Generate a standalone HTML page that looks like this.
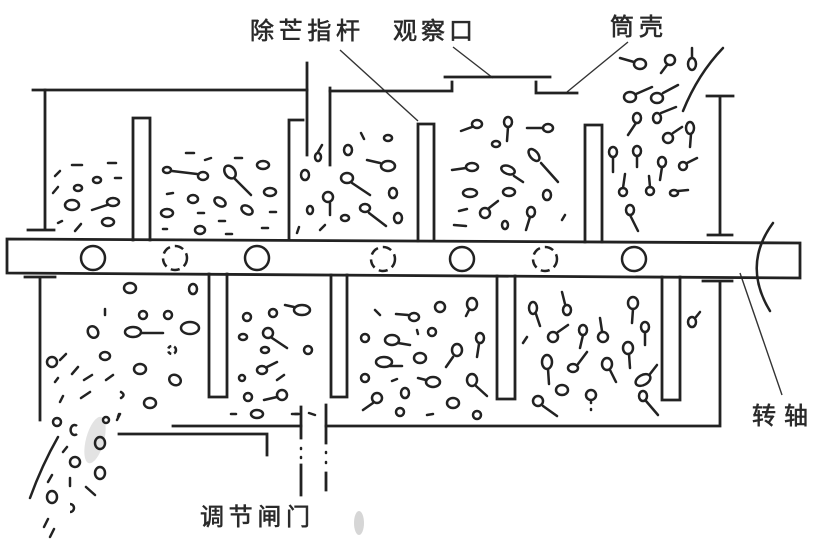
<!DOCTYPE html>
<html>
<head>
<meta charset="utf-8">
<style>
html,body{margin:0;padding:0;background:#fff;}
svg{display:block;}
.l{fill:none;stroke:#222;stroke-width:2.8;stroke-linecap:square;}
.t{fill:none;stroke:#333;stroke-width:1.4;}
.e{fill:none;stroke:#222;stroke-width:2.5;}
.d{fill:none;stroke:#222;stroke-width:2.5;stroke-linecap:round;}
text{font-family:"Liberation Sans","Noto Sans CJK SC",sans-serif;font-size:24px;fill:#2a2a2a;stroke:#2a2a2a;stroke-width:0.6;}
</style>
</head>
<body>
<svg width="819" height="553" viewBox="0 0 819 553" xmlns="http://www.w3.org/2000/svg">
<rect width="819" height="553" fill="#fff"/>

<!-- labels -->
<text x="250" y="39" textLength="110" lengthAdjust="spacing">除芒指杆</text>
<text x="393" y="39" textLength="80" lengthAdjust="spacing">观察口</text>
<text x="610" y="35" textLength="53" lengthAdjust="spacing">筒壳</text>
<text x="752" y="424" textLength="56" lengthAdjust="spacing">转轴</text>
<text x="200" y="525" textLength="110" lengthAdjust="spacing">调节闸门</text>

<!-- leaders -->
<line class="t" x1="340" y1="50" x2="418" y2="121"/>
<line class="t" x1="453" y1="47" x2="493" y2="78"/>
<line class="t" x1="628" y1="42" x2="567" y2="92"/>
<line class="t" x1="740" y1="273" x2="782" y2="395"/>

<!-- shaft -->
<polygon class="l" points="7,239 800,243 800,278 7,273"/>
<circle class="e" cx="93" cy="258" r="12" stroke-width="3.2"/>
<circle class="e" cx="175" cy="258" r="12" stroke-dasharray="9 5"/>
<circle class="e" cx="257" cy="258" r="12" stroke-width="2.8"/>
<circle class="e" cx="383" cy="259" r="12" stroke-dasharray="9 5"/>
<circle class="e" cx="462" cy="259" r="12" stroke-width="2.8"/>
<circle class="e" cx="545" cy="259" r="12" stroke-dasharray="9 5"/>
<circle class="e" cx="634" cy="259" r="12" stroke-width="2.8"/>

<!-- upper housing -->
<path class="l" d="M33,90 H307"/>
<path class="l" d="M330,91 H452 V82"/>
<path class="l" d="M536,82 V93 H577"/>
<path class="l" d="M445,77 H550"/>
<path class="l" d="M45,90 V230 M28,230 H54"/>
<path class="l" d="M720,96 V235 M707,96 H733 M708,235 H732"/>
<!-- inlet pipe -->
<path class="l" d="M307,63 V155 M330,88 V165"/>

<!-- upper fingers -->
<path class="l" d="M133,240 V118 H150 V240"/>
<path class="l" d="M289,240 V120 H303"/>
<path class="l" d="M418,241 V124 H434 V241"/>
<path class="l" d="M585,242 V125 H602 V242"/>

<!-- lower fingers -->
<path class="l" d="M209,274 V397 H227 V274"/>
<path class="l" d="M331,275 V397 H347 V275"/>
<path class="l" d="M497,276 V399 H515 V276"/>
<path class="l" d="M662,277 V400 H680 V277"/>

<!-- lower housing -->
<path class="l" d="M25,277 H55 M40,277 V420"/>
<path class="l" d="M703,281 H732 M720,281 V426 H326"/>
<path class="l" d="M301,426 H173"/>
<path class="l" d="M119,434 H267 V455"/>
<!-- gate -->
<path class="l" d="M301,407 V438 M301,465 V495" stroke-width="2"/>
<path class="d" d="M301,448 v1 M301,457 v1" stroke-width="2"/>
<path class="l" d="M326,405 V443 M326,473 V490" stroke-width="2"/>
<path class="d" d="M326,452 v1 M326,462 v1" stroke-width="2"/>
<path class="d" d="M292,414 H298 M309,413 L315,415" stroke-width="1.6"/>

<!-- flow curves -->
<path class="d" d="M723,48 Q698,74 683,111" stroke-width="2"/>
<path class="d" d="M773,223 Q742,265 770,311" stroke-width="2"/>
<path class="d" d="M58,437 Q42,465 30,498" stroke-width="2.6"/>

<!-- smudges -->
<ellipse cx="95" cy="440" rx="9" ry="24" fill="#d0d0d0" opacity="0.6" transform="rotate(15 95 440)"/>
<ellipse cx="359" cy="523" rx="5" ry="12" fill="#c4c4c4" opacity="0.7"/>

<!-- upper chamber 1 -->
<g>
<path class="d" d="M72,165 H82 M108,163 H116 M55,176 L60,171 M115,178 H121 M53,193 L58,187 M58,223 L62,221 M75,231 L81,224"/>
<ellipse class="e" cx="97" cy="180" rx="4" ry="3"/>
<ellipse class="e" cx="78" cy="188" rx="4" ry="3"/>
<ellipse class="e" cx="72" cy="205" rx="7" ry="5"/>
<ellipse class="e" cx="113" cy="202" rx="6" ry="4"/><path class="d" d="M107,205 L92,210"/>
<ellipse class="e" cx="108" cy="222" rx="6" ry="4"/>
</g>

<!-- upper chamber 2 -->
<g>
<path class="d" d="M186,153 H194 M205,160 L211,158 M235,158 H242 M167,194 L173,193 M198,213 H204 M270,212 H276 M219,221 H225 M163,229 H167 M226,234 H232 M262,228 H268"/>
<ellipse class="e" cx="167" cy="170" rx="4" ry="3"/>
<ellipse class="e" cx="203" cy="176" rx="5" ry="4"/><path class="d" d="M197,174 L172,171"/>
<ellipse class="e" cx="230" cy="172" rx="5" ry="7" transform="rotate(-35 230 172)"/><path class="d" d="M235,179 L251,195"/>
<ellipse class="e" cx="263" cy="165" rx="6" ry="4"/>
<ellipse class="e" cx="193" cy="199" rx="5" ry="4"/>
<ellipse class="e" cx="220" cy="202" rx="6" ry="4" transform="rotate(30 220 202)"/>
<ellipse class="e" cx="270" cy="192" rx="6" ry="4"/>
<ellipse class="e" cx="167" cy="213" rx="6" ry="4"/>
<ellipse class="e" cx="247" cy="210" rx="6" ry="4" transform="rotate(30 247 210)"/>
<ellipse class="e" cx="200" cy="230" rx="5" ry="4"/>
</g>

<!-- upper chamber 3 -->
<g>
<ellipse class="e" cx="318" cy="157" rx="3" ry="4"/><path class="d" d="M318,152 L322,145"/>
<ellipse class="e" cx="348" cy="150" rx="4" ry="5"/>
<path class="d" d="M361,133 L364,139 M297,233 L299,227 M320,230 L325,225"/>
<ellipse class="e" cx="388" cy="138" rx="4" ry="3"/>
<ellipse class="e" cx="388" cy="166" rx="7" ry="5"/><path class="d" d="M380,163 L367,160"/>
<ellipse class="e" cx="305" cy="175" rx="4" ry="5"/>
<ellipse class="e" cx="347" cy="178" rx="6" ry="5"/><path class="d" d="M352,183 L370,195"/>
<ellipse class="e" cx="393" cy="193" rx="4" ry="5"/>
<ellipse class="e" cx="328" cy="197" rx="5" ry="5"/><path class="d" d="M330,203 L330,215"/>
<ellipse class="e" cx="310" cy="210" rx="3" ry="4"/>
<ellipse class="e" cx="345" cy="218" rx="4" ry="3"/>
<ellipse class="e" cx="365" cy="208" rx="5" ry="4"/><path class="d" d="M369,213 L386,226"/>
<ellipse class="e" cx="398" cy="218" rx="4" ry="5"/>
</g>

<!-- upper chamber 4 -->
<g>
<ellipse class="e" cx="477" cy="124" rx="5" ry="4"/><path class="d" d="M472,127 L461,131"/>
<ellipse class="e" cx="508" cy="122" rx="4" ry="5"/><path class="d" d="M508,127 L507,141"/>
<ellipse class="e" cx="548" cy="128" rx="5" ry="4"/><path class="d" d="M543,128 L527,128"/>
<ellipse class="e" cx="496" cy="144" rx="4" ry="3"/>
<ellipse class="e" cx="472" cy="167" rx="6" ry="4"/><path class="d" d="M466,168 L452,170"/>
<ellipse class="e" cx="508" cy="170" rx="7" ry="4" transform="rotate(20 508 170)"/><path class="d" d="M514,176 L523,182"/>
<ellipse class="e" cx="534" cy="155" rx="4" ry="7" transform="rotate(-40 534 155)"/><path class="d" d="M541,163 L558,182"/>
<ellipse class="e" cx="470" cy="193" rx="7" ry="4"/>
<ellipse class="e" cx="509" cy="192" rx="6" ry="4"/>
<ellipse class="e" cx="547" cy="195" rx="4" ry="5"/>
<ellipse class="e" cx="485" cy="213" rx="5" ry="5"/><path class="d" d="M489,208 L498,201"/>
<path class="d" d="M459,211 L467,209 M454,225 L466,226 M562,220 L565,215"/>
<ellipse class="e" cx="505" cy="225" rx="3" ry="4"/>
<ellipse class="e" cx="531" cy="212" rx="4" ry="5"/><path class="d" d="M530,217 L526,230"/>
</g>

<!-- upper chamber 5 / outflow -->
<g>
<ellipse class="e" cx="640" cy="64" rx="6" ry="5"/><path class="d" d="M634,62 L620,58"/>
<ellipse class="e" cx="670" cy="60" rx="5" ry="5"/><path class="d" d="M667,65 L661,73"/>
<ellipse class="e" cx="692" cy="64" rx="4" ry="6"/><path class="d" d="M692,58 L692,48"/>
<ellipse class="e" cx="630" cy="97" rx="6" ry="5"/><path class="d" d="M636,94 L652,87"/>
<ellipse class="e" cx="657" cy="98" rx="6" ry="5"/><path class="d" d="M663,93 L678,85"/>
<ellipse class="e" cx="637" cy="118" rx="4" ry="5"/><path class="d" d="M636,123 L628,135"/>
<ellipse class="e" cx="657" cy="118" rx="4" ry="5"/><path class="d" d="M661,113 L676,107"/>
<ellipse class="e" cx="668" cy="138" rx="5" ry="5"/><path class="d" d="M673,133 L682,127"/>
<ellipse class="e" cx="690" cy="128" rx="4" ry="6"/><path class="d" d="M691,134 L690,147"/>
<ellipse class="e" cx="613" cy="152" rx="4" ry="5"/><path class="d" d="M613,157 L613,172"/>
<ellipse class="e" cx="637" cy="151" rx="4" ry="5"/><path class="d" d="M637,156 L637,167"/>
<ellipse class="e" cx="662" cy="162" rx="4" ry="5"/><path class="d" d="M662,167 L660,180"/>
<ellipse class="e" cx="683" cy="166" rx="4" ry="4"/><path class="d" d="M687,163 L697,158"/>
<ellipse class="e" cx="623" cy="192" rx="4" ry="4"/><path class="d" d="M623,188 L625,174"/>
<ellipse class="e" cx="650" cy="191" rx="4" ry="4"/><path class="d" d="M650,187 L649,176"/>
<ellipse class="e" cx="674" cy="193" rx="4" ry="3"/><path class="d" d="M678,191 L688,190"/>
<ellipse class="e" cx="630" cy="210" rx="4" ry="5"/><path class="d" d="M630,215 L638,231"/>
</g>

<!-- lower chamber 1 -->
<g>
<ellipse class="e" cx="130" cy="288" rx="6" ry="5"/>
<ellipse class="e" cx="193" cy="289" rx="4" ry="5"/>
<path class="d" d="M105,309 L105,315"/>
<ellipse class="e" cx="143" cy="315" rx="4" ry="4"/>
<ellipse class="e" cx="168" cy="315" rx="4" ry="4"/>
<ellipse class="e" cx="190" cy="328" rx="9" ry="6"/>
<ellipse class="e" cx="93" cy="332" rx="5" ry="6" transform="rotate(-30 93 332)"/>
<ellipse class="e" cx="133" cy="332" rx="8" ry="5"/><path class="d" d="M141,333 L163,333"/>
<circle class="e" cx="172" cy="350" r="4" stroke-dasharray="4 3" stroke-width="1.4"/>
<ellipse class="e" cx="52" cy="362" rx="5" ry="5"/>
<path class="d" d="M60,360 L66,354"/>
<ellipse class="e" cx="105" cy="356" rx="5" ry="4"/>
<ellipse class="e" cx="140" cy="369" rx="6" ry="5"/>
<ellipse class="e" cx="175" cy="380" rx="6" ry="5" transform="rotate(30 175 380)"/>
<path class="d" d="M72,374 L78,367 M84,380 L92,375 M106,380 L113,375 M55,382 L58,378 M81,398 L90,392 M60,402 L63,396 M117,420 L120,414 M118,417 L119,414"/>
<path class="d" d="M121,392 Q126,395 121,398"/>
<ellipse class="e" cx="150" cy="403" rx="6" ry="5"/>
<ellipse class="e" cx="57" cy="422" rx="4" ry="4"/>
<path class="e" d="M77,426 A4,5 0 1,0 77,434"/>
<ellipse class="e" cx="106" cy="420" rx="3" ry="3"/>
<ellipse class="e" cx="100" cy="443" rx="5" ry="6" stroke-width="2.8"/>
<ellipse class="e" cx="75" cy="462" rx="5" ry="5" transform="rotate(30 75 462)"/>
<ellipse class="e" cx="100" cy="473" rx="5" ry="6"/>
<path class="d" d="M63,452 L67,447 M48,482 L52,475 M70,486 L70,478 M86,487 L95,495 M44,527 L48,519 M50,537 L54,529"/>
<ellipse class="e" cx="52" cy="497" rx="5" ry="6"/>
<path class="e" d="M70,504 A4,4 0 1,1 70,512"/>
</g>

<!-- lower chamber 2 -->
<g>
<ellipse class="e" cx="302" cy="310" rx="8" ry="5"/><path class="d" d="M294,307 L285,305"/>
<ellipse class="e" cx="247" cy="317" rx="4" ry="4"/>
<ellipse class="e" cx="273" cy="313" rx="4" ry="4"/>
<ellipse class="e" cx="243" cy="337" rx="4" ry="3"/>
<ellipse class="e" cx="268" cy="333" rx="5" ry="5"/><path class="d" d="M272,338 L287,348"/>
<ellipse class="e" cx="265" cy="350" rx="4" ry="3"/>
<ellipse class="e" cx="308" cy="350" rx="4" ry="4"/>
<ellipse class="e" cx="262" cy="370" rx="5" ry="4"/><path class="d" d="M267,367 L277,362"/>
<ellipse class="e" cx="242" cy="378" rx="3" ry="3"/>
<path class="d" d="M277,380 L284,375 M231,414 L236,414 M295,414 L299,414"/>
<ellipse class="e" cx="248" cy="397" rx="4" ry="4"/>
<ellipse class="e" cx="282" cy="395" rx="5" ry="5"/><path class="d" d="M277,397 L264,400"/>
<ellipse class="e" cx="257" cy="414" rx="6" ry="4"/>
</g>

<!-- lower chamber 3 -->
<g>
<path class="d" d="M375,310 L380,315 M417,330 L418,334 M392,381 L397,379 M427,415 L433,414"/>
<ellipse class="e" cx="414" cy="317" rx="5" ry="4"/><path class="d" d="M408,315 L396,314"/>
<ellipse class="e" cx="440" cy="307" rx="5" ry="5"/>
<ellipse class="e" cx="472" cy="304" rx="5" ry="6"/><path class="d" d="M469,310 L466,316"/>
<ellipse class="e" cx="432" cy="332" rx="4" ry="4"/>
<ellipse class="e" cx="365" cy="338" rx="4" ry="4"/>
<ellipse class="e" cx="392" cy="340" rx="7" ry="5"/><path class="d" d="M398,343 L410,345"/>
<ellipse class="e" cx="384" cy="362" rx="8" ry="5"/><path class="d" d="M390,366 L402,366"/>
<ellipse class="e" cx="420" cy="358" rx="6" ry="5"/>
<ellipse class="e" cx="457" cy="350" rx="5" ry="6"/><path class="d" d="M453,357 L446,367"/>
<ellipse class="e" cx="480" cy="338" rx="4" ry="5"/><path class="d" d="M479,344 L477,357"/>
<ellipse class="e" cx="365" cy="378" rx="4" ry="4"/>
<ellipse class="e" cx="405" cy="393" rx="4" ry="5"/>
<ellipse class="e" cx="377" cy="398" rx="5" ry="5"/><path class="d" d="M373,403 L363,410"/>
<ellipse class="e" cx="400" cy="412" rx="4" ry="4"/>
<ellipse class="e" cx="433" cy="382" rx="7" ry="5"/><path class="d" d="M426,380 L418,378"/>
<ellipse class="e" cx="472" cy="380" rx="5" ry="6"/><path class="d" d="M476,386 L487,396"/>
<ellipse class="e" cx="453" cy="403" rx="6" ry="5"/>
<ellipse class="e" cx="477" cy="415" rx="4" ry="4"/>
</g>

<!-- lower chamber 4 -->
<g>
<ellipse class="e" cx="533" cy="308" rx="4" ry="6"/><path class="d" d="M536,314 L540,326"/>
<ellipse class="e" cx="567" cy="310" rx="4" ry="5"/><path class="d" d="M565,304 L562,292"/>
<path class="d" d="M523,343 L527,337"/>
<ellipse class="e" cx="553" cy="337" rx="5" ry="5"/><path class="d" d="M558,332 L568,325"/>
<ellipse class="e" cx="583" cy="330" rx="4" ry="5"/><path class="d" d="M583,335 L580,348"/>
<ellipse class="e" cx="603" cy="337" rx="5" ry="5"/><path class="d" d="M602,331 L600,318"/>
<ellipse class="e" cx="633" cy="303" rx="5" ry="6"/><path class="d" d="M633,309 L632,323"/>
<ellipse class="e" cx="645" cy="327" rx="4" ry="5"/><path class="d" d="M645,332 L645,345"/>
<ellipse class="e" cx="628" cy="348" rx="5" ry="6"/><path class="d" d="M629,354 L630,368"/>
<ellipse class="e" cx="547" cy="362" rx="5" ry="7"/><path class="d" d="M548,369 L549,384"/>
<ellipse class="e" cx="573" cy="368" rx="5" ry="4"/><path class="d" d="M578,364 L587,352"/>
<ellipse class="e" cx="607" cy="364" rx="5" ry="6"/><path class="d" d="M610,370 L616,382"/>
<ellipse class="e" cx="643" cy="380" rx="8" ry="5" transform="rotate(-30 643 380)"/><path class="d" d="M650,374 L657,365"/>
<ellipse class="e" cx="562" cy="390" rx="6" ry="5"/>
<ellipse class="e" cx="591" cy="395" rx="5" ry="5"/><path class="d" d="M591,402 v1 M591,409 v1" stroke-width="1.6"/>
<ellipse class="e" cx="538" cy="401" rx="5" ry="5"/><path class="d" d="M543,406 L557,416"/>
<ellipse class="e" cx="643" cy="396" rx="4" ry="5"/><path class="d" d="M646,401 L658,415"/>
<ellipse class="e" cx="692" cy="322" rx="4" ry="5"/><path class="d" d="M696,317 L700,312"/>
</g>
</svg>
</body>
</html>
